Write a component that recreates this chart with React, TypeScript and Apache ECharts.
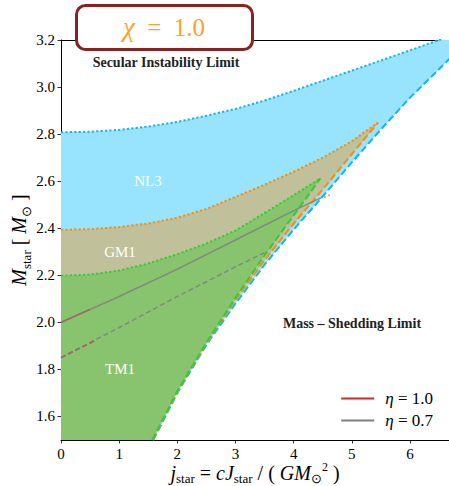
import React, { useEffect, useRef } from 'react';
import * as echarts from 'echarts';

// ---------- data ----------
const xTicks = [0, 1, 2, 3, 4, 5, 6];
const yTicks = [1.6, 1.8, 2.0, 2.2, 2.4, 2.6, 2.8, 3.0, 3.2];

// Secular instability limits (upper dotted curves)
const nl3SecJ = [0, 0.5, 1, 1.5, 2, 2.5, 3, 3.5, 4, 4.5, 5, 5.5, 6, 6.5, 6.7];
const nl3SecM = [2.808, 2.81, 2.818, 2.832, 2.852, 2.878, 2.907, 2.943, 2.984, 3.027, 3.07, 3.113, 3.156, 3.2, 3.218];
const gm1SecJ = [0, 0.5, 1, 1.5, 2, 2.5, 3, 3.5, 4, 4.5, 5, 5.45];
const gm1SecM = [2.393, 2.396, 2.405, 2.42, 2.445, 2.482, 2.533, 2.585, 2.64, 2.7, 2.77, 2.849];
const tm1SecJ = [0, 0.5, 1, 1.5, 2, 2.5, 3, 3.5, 4, 4.46];
const tm1SecM = [2.198, 2.203, 2.22, 2.25, 2.29, 2.335, 2.39, 2.465, 2.54, 2.612];

// Mass-shedding limits (dashed curves)
const nl3MsJ = [1.586, 2.0, 2.5, 3.0, 3.5, 4.0, 4.5, 5.0, 5.5, 6.0, 6.7];
const nl3MsM = [1.5, 1.7, 1.905, 2.08, 2.245, 2.395, 2.535, 2.68, 2.82, 2.955, 3.125];
const gm1MsJ = [1.575, 2.0, 2.5, 3.0, 3.5, 4.0, 4.5, 5.0, 5.45];
const gm1MsM = [1.5, 1.705, 1.912, 2.095, 2.265, 2.42, 2.565, 2.715, 2.849];
const tm1MsJ = [1.57, 2.0, 2.5, 3.0, 3.5, 4.0, 4.46];
const tm1MsM = [1.5, 1.708, 1.915, 2.105, 2.285, 2.455, 2.612];

// eta tracks
const eta07SolidJ = [0, 1, 2, 3, 4, 4.45];
const eta07SolidM = [2.0, 2.11, 2.226, 2.35, 2.475, 2.527];
const eta07TailJ = [4.45, 4.62];
const eta07TailM = [2.527, 2.541];
const eta07DashJ = [0, 1, 2, 3, 3.53];
const eta07DashM = [1.85, 1.978, 2.11, 2.236, 2.3];
const eta10SolidJ = [0, 0.5];
const eta10SolidM = [2.0, 2.055];
const eta10DashJ = [0, 0.6];
const eta10DashM = [1.85, 1.925];

const legendNames = ['η = 1.0', 'η = 0.7'];

const X_MIN = 0;
const X_MAX = 6.67;
const Y_MIN = 1.5;
const Y_MAX = 3.2;

// ---------- helpers ----------
const zip = (a: number[], b: number[]) => a.map((v, i) => [v, b[i]]);
const regionPoints = (secJ: number[], secM: number[], msJ: number[], msM: number[]) => {
  const upper = zip(secJ, secM);
  const lower = zip(msJ, msM).reverse();
  return [...upper, ...lower, [X_MIN, Y_MIN]];
};

const FONT = 'Liberation Serif';
const DOT: number[] = [2.2, 2.2];
const DASH: number[] = [7, 3.2];

const COL_BLUE_FILL = '#98e3fd';
const COL_TAN_FILL = '#c0c09a';
const COL_GREEN_FILL = '#88c46e';
const COL_BLUE = '#12b4f2';
const COL_ORANGE = '#ff8c00';
const COL_GREEN = '#33cc33';
const COL_RED = '#d62728';
const COL_GRAY = '#808080';

const polygonSeries = (name: string, pts: number[][], color: string, z: number) => ({
  type: 'custom',
  name,
  z,
  silent: true,
  clip: true,
  data: [[0, 2]],
  renderItem: (_params: any, api: any) => ({
    type: 'polygon',
    shape: { points: pts.map((p) => api.coord(p)) },
    style: { fill: color, stroke: 'none' },
  }),
});

const lineSeries = (
  name: string,
  j: number[],
  m: number[],
  color: string,
  width: number,
  type: any,
  z: number,
  opacity = 1
) => ({
  type: 'line',
  name,
  z,
  silent: true,
  symbol: 'none',
  showSymbol: false,
  data: zip(j, m),
  lineStyle: { color, width, type, opacity, cap: 'butt' },
  itemStyle: { color },
});

const richX = {
  i: { fontFamily: FONT, fontStyle: 'italic', fontSize: 20, lineHeight: 24, color: '#000' },
  n: { fontFamily: FONT, fontSize: 20, lineHeight: 24, color: '#000' },
  s: { fontFamily: FONT, fontSize: 13, lineHeight: 13, verticalAlign: 'bottom', color: '#000' },
  p: { fontFamily: FONT, fontSize: 12, lineHeight: 12, verticalAlign: 'top', color: '#000' },
};
const richY = {
  i: { fontFamily: FONT, fontStyle: 'italic', fontSize: 20, lineHeight: 28, color: '#000' },
  n: { fontFamily: FONT, fontSize: 20, lineHeight: 28, color: '#000' },
  s: { fontFamily: FONT, fontSize: 13, lineHeight: 13, verticalAlign: 'bottom', color: '#000' },
};

export default function App() {
  const ref = useRef<HTMLDivElement>(null);

  useEffect(() => {
    if (!ref.current) return;
    const chart = echarts.init(ref.current, undefined, { renderer: 'svg' });

    const option: any = {
      animation: false,
      backgroundColor: '#fff',
      grid: { left: 61, right: 0, top: 40, bottom: 46, containLabel: false, outerBoundsMode: 'none' },
      xAxis: [
        {
          type: 'value',
          min: X_MIN,
          max: X_MAX,
          position: 'bottom',
          name: '{i|j}{s|star}{n| = }{i|cJ}{s|star}{n| / ( }{i|GM}{s|⊙}{p|2}{n| )}',
          nameLocation: 'middle',
          nameGap: 21,
          nameMoveOverlap: false,
          nameTextStyle: { rich: richX },
          axisLine: { show: true, lineStyle: { color: '#000', width: 1 } },
          axisTick: { show: true, length: 3.5, inside: false, customValues: xTicks, lineStyle: { color: '#000', width: 0.8 } },
          axisLabel: {
            customValues: xTicks,
            margin: 6,
            fontFamily: FONT,
            fontSize: 15,
            color: '#000',
            formatter: (v: number) => String(Math.round(v)),
          },
          splitLine: { show: false },
        },
        {
          type: 'value',
          min: X_MIN,
          max: X_MAX,
          position: 'top',
          axisLine: { show: true, lineStyle: { color: '#000', width: 1 } },
          axisTick: { show: false },
          axisLabel: { show: false },
          splitLine: { show: false },
        },
      ],
      yAxis: {
        type: 'value',
        min: Y_MIN,
        max: Y_MAX,
        name: '{i|M}{s|star}{n| [ }{i|M}{s|⊙}{n| ]}',
        nameLocation: 'middle',
        nameGap: 28,
        nameMoveOverlap: false,
        nameRotate: 90,
        nameTextStyle: { rich: richY },
        axisLine: { show: true, lineStyle: { color: '#000', width: 1 } },
        axisTick: { show: true, length: 3.5, customValues: yTicks, lineStyle: { color: '#000', width: 0.8 } },
        axisLabel: {
          customValues: yTicks,
          margin: 6,
          fontFamily: FONT,
          fontSize: 15,
          color: '#000',
          formatter: (v: number) => v.toFixed(1),
        },
        splitLine: { show: false },
      },
      legend: {
        data: legendNames.map((n) => ({ name: n, icon: 'rect' })),
        orient: 'vertical',
        right: 11,
        top: 385,
        itemWidth: 33,
        itemHeight: 2,
        itemGap: 5,
        textStyle: {
          fontFamily: FONT,
          fontSize: 17,
          color: '#000',
          padding: [0, 0, 0, 6],
          rich: {
            g: { fontFamily: FONT, fontStyle: 'italic', fontSize: 17, color: '#000' },
            t: { fontFamily: FONT, fontSize: 17, color: '#000' },
          },
        },
        formatter: (name: string) => `{g|η}{t|${name.slice(1)}}`,
      },
      graphic: [
        {
          type: 'rect',
          z: 100,
          shape: { x: 76.5, y: 5.5, width: 176, height: 44, r: 9 },
          style: { fill: '#fff', stroke: '#8b2222', lineWidth: 3 },
        },
        {
          type: 'text',
          z: 101,
          x: 164,
          y: 27,
          style: {
            text: '{c|χ}{v|  =  1.0}',
            align: 'center',
            verticalAlign: 'middle',
            rich: {
              c: { fontFamily: FONT, fontStyle: 'italic', fontSize: 27, fill: '#ff9f2c' },
              v: { fontFamily: FONT, fontSize: 25, fill: '#ff9f2c' },
            },
          },
        },
        {
          type: 'text',
          z: 100,
          x: 166,
          y: 62,
          style: {
            text: 'Secular Instability Limit',
            align: 'center',
            verticalAlign: 'middle',
            fontFamily: FONT,
            fontWeight: 'bold',
            fontSize: 14,
            fill: '#222',
          },
        },
        {
          type: 'text',
          z: 100,
          x: 352,
          y: 323,
          style: {
            text: 'Mass – Shedding Limit',
            align: 'center',
            verticalAlign: 'middle',
            fontFamily: FONT,
            fontWeight: 'bold',
            fontSize: 14,
            fill: '#222',
          },
        },
        {
          type: 'text',
          z: 100,
          x: 148,
          y: 181,
          style: { text: 'NL3', align: 'center', verticalAlign: 'middle', fontFamily: FONT, fontSize: 15, fill: '#fff' },
        },
        {
          type: 'text',
          z: 100,
          x: 120,
          y: 252,
          style: { text: 'GM1', align: 'center', verticalAlign: 'middle', fontFamily: FONT, fontSize: 15, fill: '#fff' },
        },
        {
          type: 'text',
          z: 100,
          x: 120,
          y: 369,
          style: { text: 'TM1', align: 'center', verticalAlign: 'middle', fontFamily: FONT, fontSize: 15, fill: '#fff' },
        },
      ],
      series: [
        polygonSeries('NL3 region', regionPoints(nl3SecJ, nl3SecM, nl3MsJ, nl3MsM), COL_BLUE_FILL, 1),
        polygonSeries('GM1 region', regionPoints(gm1SecJ, gm1SecM, gm1MsJ, gm1MsM), COL_TAN_FILL, 2),
        polygonSeries('TM1 region', regionPoints(tm1SecJ, tm1SecM, tm1MsJ, tm1MsM), COL_GREEN_FILL, 3),
        lineSeries('NL3 sec', nl3SecJ, nl3SecM, COL_BLUE, 2, DOT, 5),
        lineSeries('NL3 ms', nl3MsJ, nl3MsM, COL_BLUE, 2, DASH, 5),
        lineSeries('GM1 sec', gm1SecJ, gm1SecM, COL_ORANGE, 2, DOT, 6),
        lineSeries('GM1 ms', gm1MsJ, gm1MsM, COL_ORANGE, 2, DASH, 6),
        lineSeries('TM1 sec', tm1SecJ, tm1SecM, COL_GREEN, 2, DOT, 7),
        lineSeries('TM1 ms', tm1MsJ, tm1MsM, COL_GREEN, 2, DASH, 7),
        lineSeries(legendNames[0], eta10SolidJ, eta10SolidM, COL_RED, 1.5, 'solid', 8),
        lineSeries('η = 1.0 dashed', eta10DashJ, eta10DashM, COL_RED, 1.5, [5, 3], 8),
        lineSeries(legendNames[1], eta07SolidJ, eta07SolidM, COL_GRAY, 1.5, 'solid', 9, 0.85),
        lineSeries('η = 0.7 dashed', eta07DashJ, eta07DashM, COL_GRAY, 1.5, [5, 3], 9, 0.85),
        lineSeries('η = 0.7 tail', eta07TailJ, eta07TailM, COL_GRAY, 1.5, [1.5, 3], 9, 0.85),
      ],
    };

    chart.setOption(option);
    return () => chart.dispose();
  }, []);

  return (
    <div
      ref={ref}
      style={{ position: 'absolute', left: 0, top: 0, width: 449, height: 486 }}
    />
  );
}
